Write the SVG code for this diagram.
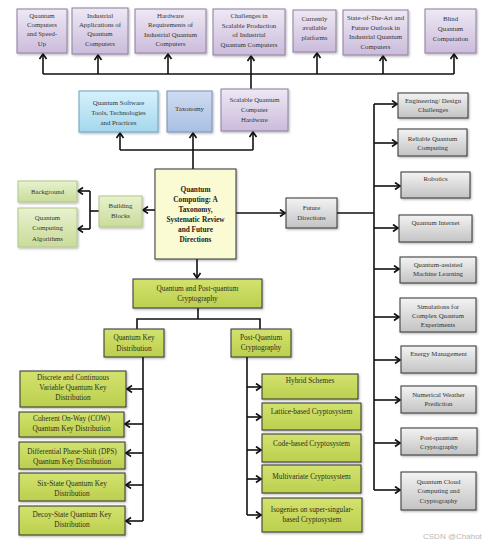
<svg xmlns="http://www.w3.org/2000/svg" width="500" height="547" viewBox="0 0 500 547">
<defs>
<linearGradient id="gPurple" x1="0" y1="0" x2="0" y2="1"><stop offset="0" stop-color="#eee8f4"/><stop offset="1" stop-color="#cbbcdb"/></linearGradient>
<linearGradient id="gBlue" x1="0" y1="0" x2="0" y2="1"><stop offset="0" stop-color="#d6f1fb"/><stop offset="1" stop-color="#a4d7ee"/></linearGradient>
<linearGradient id="gTax" x1="0" y1="0" x2="0" y2="1"><stop offset="0" stop-color="#cfdcf1"/><stop offset="1" stop-color="#a9bfe3"/></linearGradient>
<linearGradient id="gLGreen" x1="0" y1="0" x2="0" y2="1"><stop offset="0" stop-color="#e8f1cf"/><stop offset="1" stop-color="#c9dc9a"/></linearGradient>
<linearGradient id="gOlive" x1="0" y1="0" x2="0" y2="1"><stop offset="0" stop-color="#d3e26e"/><stop offset="1" stop-color="#bccf4e"/></linearGradient>
<linearGradient id="gGray" x1="0" y1="0" x2="0" y2="1"><stop offset="0" stop-color="#f3f3f3"/><stop offset="1" stop-color="#c3c3c3"/></linearGradient>
<filter id="sh" x="-10%" y="-10%" width="130%" height="130%"><feDropShadow dx="1" dy="1.2" stdDeviation="0.8" flood-color="#000" flood-opacity="0.3"/></filter>
<marker id="ar" markerUnits="userSpaceOnUse" markerWidth="10" markerHeight="10" refX="6" refY="4" orient="auto"><path d="M1,0.5 L6,4 L1,7.5" fill="none" stroke="#111" stroke-width="1.7"/></marker>
</defs>
<style>
text{font-family:"Liberation Serif","Times New Roman",serif;font-size:6.8px;fill:#333;text-anchor:middle}
.b{font-weight:bold;font-size:7.3px;fill:#222}
.k text{font-size:7.3px;fill:#2e2e1e}
.purple{fill:url(#gPurple);stroke:#8e7fa0;stroke-width:1;filter:url(#sh)}
.blue{fill:url(#gBlue);stroke:#6da2bf;stroke-width:1;filter:url(#sh)}
.tax{fill:url(#gTax);stroke:#7890b8;stroke-width:1;filter:url(#sh)}
.center{fill:#fafbd3;stroke:#333;stroke-width:1;filter:url(#sh)}
.lg{fill:url(#gLGreen);stroke:#b3c788;stroke-width:1;filter:url(#sh)}
.ol{fill:url(#gOlive);stroke:#333;stroke-width:1;filter:url(#sh)}
.gr{fill:url(#gGray);stroke:#333;stroke-width:1;filter:url(#sh)}
.c path,.c line,.c polyline{fill:none;stroke:#111;stroke-width:1.6}
.wm{font-family:"Liberation Sans",Arial,sans-serif;font-size:8px;fill:#b8b8b8;text-anchor:start}
</style>
<rect width="500" height="547" fill="#fff"/>

<g id="connectors" class="c">
<line x1="43" y1="74" x2="454" y2="74"/>
<line x1="43" y1="74" x2="43" y2="54" marker-end="url(#ar)"/>
<line x1="98" y1="74" x2="98" y2="55" marker-end="url(#ar)"/>
<line x1="168" y1="74" x2="168" y2="54" marker-end="url(#ar)"/>
<line x1="251" y1="89" x2="251" y2="56" marker-end="url(#ar)"/>
<line x1="317" y1="74" x2="317" y2="53" marker-end="url(#ar)"/>
<line x1="383" y1="74" x2="383" y2="56" marker-end="url(#ar)"/>
<line x1="454" y1="74" x2="454" y2="54" marker-end="url(#ar)"/>
<line x1="120" y1="150" x2="253" y2="150"/>
<line x1="120" y1="150" x2="120" y2="133" marker-end="url(#ar)"/>
<line x1="193" y1="169" x2="193" y2="133" marker-end="url(#ar)"/>
<line x1="253" y1="150" x2="253" y2="132" marker-end="url(#ar)"/>
<line x1="155" y1="210" x2="143" y2="210" marker-end="url(#ar)"/>
<line x1="99" y1="211" x2="90" y2="211"/>
<line x1="90" y1="191" x2="90" y2="229"/>
<line x1="90" y1="191" x2="78" y2="191" marker-end="url(#ar)"/>
<line x1="90" y1="229" x2="78" y2="229" marker-end="url(#ar)"/>
<line x1="197" y1="259" x2="197" y2="278" marker-end="url(#ar)"/>
<line x1="236" y1="213" x2="285" y2="213" marker-end="url(#ar)"/>
<line x1="337" y1="213" x2="374" y2="213"/>
<line x1="374" y1="104" x2="374" y2="490"/>
<line x1="374" y1="104" x2="397" y2="104" marker-end="url(#ar)"/>
<line x1="374" y1="143" x2="397" y2="143" marker-end="url(#ar)"/>
<line x1="374" y1="186" x2="400" y2="186" marker-end="url(#ar)"/>
<line x1="374" y1="228" x2="398" y2="228" marker-end="url(#ar)"/>
<line x1="374" y1="269" x2="399" y2="269" marker-end="url(#ar)"/>
<line x1="374" y1="317" x2="399" y2="317" marker-end="url(#ar)"/>
<line x1="374" y1="360" x2="400" y2="360" marker-end="url(#ar)"/>
<line x1="374" y1="400" x2="400" y2="400" marker-end="url(#ar)"/>
<line x1="374" y1="443" x2="400" y2="443" marker-end="url(#ar)"/>
<line x1="374" y1="490" x2="400" y2="490" marker-end="url(#ar)"/>
<line x1="198" y1="308" x2="198" y2="319"/>
<polyline points="137,329 137,319 260,319 260,329"/>
<line x1="143" y1="357" x2="143" y2="521"/>
<line x1="143" y1="389" x2="127" y2="389" marker-end="url(#ar)"/>
<line x1="143" y1="424" x2="125" y2="424" marker-end="url(#ar)"/>
<line x1="143" y1="453" x2="126" y2="453" marker-end="url(#ar)"/>
<line x1="143" y1="485" x2="126" y2="485" marker-end="url(#ar)"/>
<line x1="143" y1="521" x2="126" y2="521" marker-end="url(#ar)"/>
<line x1="247" y1="357" x2="247" y2="515"/>
<line x1="247" y1="387" x2="261" y2="387" marker-end="url(#ar)"/>
<line x1="247" y1="417" x2="261" y2="417" marker-end="url(#ar)"/>
<line x1="247" y1="450" x2="261" y2="450" marker-end="url(#ar)"/>
<line x1="247" y1="479" x2="261" y2="479" marker-end="url(#ar)"/>
<line x1="247" y1="515" x2="261" y2="515" marker-end="url(#ar)"/>
</g>

<g id="n-speedup"><rect class="purple" x="17" y="9" width="50" height="44"/><text x="42" y="17.5">Quantum</text><text x="42" y="27">Computers</text><text x="42" y="36">and Speed-</text><text x="42" y="45.5">Up</text></g>
<g id="n-industrial"><rect class="purple" x="72" y="8" width="56" height="46"/><text x="100" y="17.5">Industrial</text><text x="100" y="27">Applications of</text><text x="100" y="36">Quantum</text><text x="100" y="45.5">Computers</text></g>
<g id="n-hardware"><rect class="purple" x="135" y="9" width="71" height="44"/><text x="170.5" y="17.5">Hardware</text><text x="170.5" y="27">Requirements of</text><text x="170.5" y="36.5">Industrial Quantum</text><text x="170.5" y="46">Computers</text></g>
<g id="n-challenges"><rect class="purple" x="213" y="9" width="72" height="46"/><text x="249" y="18">Challenges in</text><text x="249" y="27.5">Scalable Production</text><text x="249" y="37">of Industrial</text><text x="249" y="46.5">Quantum Computers</text></g>
<g id="n-platforms"><rect class="purple" x="293" y="10" width="43" height="42"/><text x="314.5" y="20.5">Currently</text><text x="314.5" y="30">available</text><text x="314.5" y="40">platforms</text></g>
<g id="n-stateart"><rect class="purple" x="343" y="10" width="65" height="45"/><text x="375.5" y="19.5">State-of-The-Art and</text><text x="375.5" y="29.5">Future Outlook in</text><text x="375.5" y="38.5">Industrial Quantum</text><text x="375.5" y="48.5">Computers</text></g>
<g id="n-blind"><rect class="purple" x="425" y="9" width="51" height="44"/><text x="450.5" y="20.5">Blind</text><text x="450.5" y="30.5">Quantum</text><text x="450.5" y="40.5">Computation</text></g>

<g id="n-software"><rect class="blue" x="79" y="91" width="79" height="41"/><text x="118.5" y="104.5">Quantum Software</text><text x="118.5" y="114.5">Tools, Technologies</text><text x="118.5" y="124.5">and Practices</text></g>
<g id="n-taxonomy"><rect class="tax" x="167" y="91" width="45" height="41"/><text x="189.5" y="110.5">Taxonomy</text></g>
<g id="n-scalable"><rect class="purple" x="221" y="89" width="67" height="42"/><text x="254.5" y="101.5">Scalable Quantum</text><text x="254.5" y="111.5">Computer</text><text x="254.5" y="121.5">Hardware</text></g>

<g id="n-center"><rect class="center" x="155" y="169" width="81" height="90"/><text class="b" x="195.5" y="191.5">Quantum</text><text class="b" x="195.5" y="201.5">Computing: A</text><text class="b" x="195.5" y="211.5">Taxonomy,</text><text class="b" x="195.5" y="221.5">Systematic Review</text><text class="b" x="195.5" y="231.5">and Future</text><text class="b" x="195.5" y="241.5">Directions</text></g>

<g id="n-building"><rect class="lg" x="99" y="196" width="43" height="31"/><text x="120.5" y="207.5">Building</text><text x="120.5" y="217.5">Blocks</text></g>
<g id="n-background"><rect class="lg" x="18" y="181" width="59" height="21"/><text x="47.5" y="193.5">Background</text></g>
<g id="n-algorithms"><rect class="lg" x="18" y="208" width="59" height="39"/><text x="47.5" y="220">Quantum</text><text x="47.5" y="230">Computing</text><text x="47.5" y="240.5">Algorithms</text></g>

<g id="n-future"><rect class="gr" x="286" y="198" width="51" height="30"/><text x="311.5" y="209.5">Future</text><text x="311.5" y="219.5">Directions</text></g>

<g id="n-eng"><rect class="gr" x="398" y="93" width="70" height="25"/><text x="433" y="103">Engineering/ Design</text><text x="433" y="112">Challenges</text></g>
<g id="n-reliable"><rect class="gr" x="398" y="129" width="69" height="27"/><text x="432.5" y="140.5">Reliable Quantum</text><text x="432.5" y="149.5">Computing</text></g>
<g id="n-robotics"><rect class="gr" x="401" y="172" width="69" height="26"/><text x="435.5" y="180.5">Robotics</text></g>
<g id="n-internet"><rect class="gr" x="399" y="215" width="73" height="27"/><text x="435.5" y="225">Quantum Internet</text></g>
<g id="n-qaml"><rect class="gr" x="400" y="257" width="76" height="26"/><text x="438" y="266.5">Quantum-assisted</text><text x="438" y="275.5">Machine Learning</text></g>
<g id="n-sim"><rect class="gr" x="400" y="298" width="76" height="34"/><text x="438" y="308.5">Simulations for</text><text x="438" y="317.5">Complex Quantum</text><text x="438" y="326.5">Experiments</text></g>
<g id="n-energy"><rect class="gr" x="401" y="346" width="75" height="27"/><text x="438.5" y="355.5">Energy Management</text></g>
<g id="n-weather"><rect class="gr" x="401" y="386" width="75" height="27"/><text x="438.5" y="396.5">Numerical Weather</text><text x="438.5" y="406">Prediction</text></g>
<g id="n-pqc2"><rect class="gr" x="401" y="428" width="76" height="27"/><text x="439" y="439.5">Post-quantum</text><text x="439" y="448.5">Cryptography</text></g>
<g id="n-cloud"><rect class="gr" x="401" y="472" width="75" height="38"/><text x="438.5" y="483.5">Quantum Cloud</text><text x="438.5" y="492.5">Computing and</text><text x="438.5" y="502.5">Cryptography</text></g>

<g class="k">
<g id="n-qpqc"><rect class="ol" x="133" y="279" width="129" height="29"/><text x="197.5" y="290.5">Quantum and Post-quantum</text><text x="197.5" y="300.5">Cryptography</text></g>
<g id="n-qkd"><rect class="ol" x="104" y="329" width="60" height="28"/><text x="134" y="339.5">Quantum Key</text><text x="134" y="350.5">Distribution</text></g>
<g id="n-pq"><rect class="ol" x="231" y="329" width="60" height="28"/><text x="261" y="339.5">Post-Quantum</text><text x="261" y="349.5">Cryptography</text></g>

<g id="n-discrete"><rect class="ol" x="20" y="371" width="106" height="36"/><text x="73" y="379.5">Discrete and Continuous</text><text x="73" y="389.5">Variable Quantum Key</text><text x="73" y="400">Distribution</text></g>
<g id="n-cow"><rect class="ol" x="19" y="412" width="105" height="25"/><text x="71.5" y="420.5">Coherent On-Way (COW)</text><text x="71.5" y="430.5">Quantum Key Distribution</text></g>
<g id="n-dps"><rect class="ol" x="19" y="442" width="106" height="27"/><text x="72" y="453.5">Differential Phase-Shift (DPS)</text><text x="72" y="463.5">Quantum Key Distribution</text></g>
<g id="n-six"><rect class="ol" x="19" y="473" width="106" height="28"/><text x="72" y="485.5">Six-State Quantum Key</text><text x="72" y="495.5">Distribution</text></g>
<g id="n-decoy"><rect class="ol" x="19" y="506" width="106" height="29"/><text x="72" y="516.5">Decoy-State Quantum Key</text><text x="72" y="526.5">Distribution</text></g>

<g id="n-hybrid"><rect class="ol" x="262" y="374" width="96" height="25"/><text x="310" y="382.5">Hybrid Schemes</text></g>
<g id="n-lattice"><rect class="ol" x="262" y="403" width="99" height="27"/><text x="311.5" y="413.5">Lattice-based Cryptosystem</text></g>
<g id="n-code"><rect class="ol" x="262" y="434" width="99" height="28"/><text x="311.5" y="445.5">Code-based Cryptosystem</text></g>
<g id="n-multi"><rect class="ol" x="262" y="465" width="99" height="28"/><text x="311.5" y="478.5">Multivariate Cryptosystem</text></g>
<g id="n-isogenies"><rect class="ol" x="262" y="498" width="100" height="34"/><text x="312" y="511.5">Isogenies on super-singular-</text><text x="312" y="521.5">based Cryptosystem</text></g>
</g>

<text class="wm" x="423" y="539">CSDN @Chahot</text>
</svg>
